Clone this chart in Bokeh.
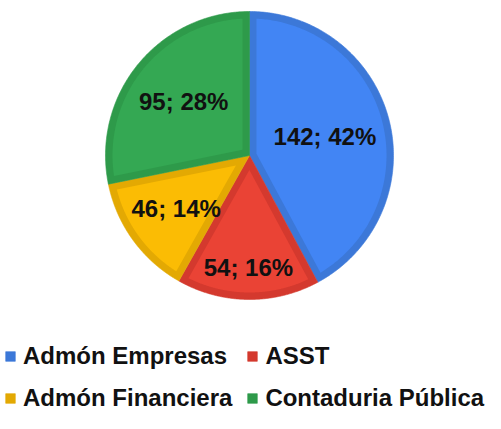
import numpy as np
from bokeh.plotting import figure
from bokeh.models import Range1d, Legend, LegendItem, ColumnDataSource
from bokeh.core.properties import value
from bokeh.embed import file_html
from bokeh.resources import INLINE

categories = ["Admón Empresas", "ASST", "Admón Financiera", "Contaduria Pública"]
counts = [142, 54, 46, 95]
fill_colors = ["#4285F4", "#EA4335", "#FBBC04", "#34A853"]
edge_colors = ["#3C78D8", "#D4392E", "#E3A903", "#2E9A4A"]
label_radius_frac = [0.54, 0.78, 0.63, 0.59]

W, H = 485, 413
p = figure(width=W, height=H, output_backend="svg", toolbar_location=None,
           x_range=Range1d(0, W), y_range=Range1d(0, H), min_border=0)
p.axis.visible = False
p.grid.visible = False
p.outline_line_color = None
p.background_fill_color = "white"

cx, cy, R, B = 249.0, 258.0, 144.0, 7.0
total = sum(counts)
fracs = np.array(counts) / total
ends = np.cumsum(fracs)
starts = ends - fracs

outer_renderers = []
for i, (s, e) in enumerate(zip(starts, ends)):
    # angles: start at top, clockwise
    a0 = np.pi / 2 - 2 * np.pi * s
    a1 = np.pi / 2 - 2 * np.pi * e
    t = np.linspace(a0, a1, 200)
    xs = np.concatenate([[cx], cx + R * np.cos(t)])
    ys = np.concatenate([[cy], cy + R * np.sin(t)])
    r = p.patch(xs, ys, fill_color=edge_colors[i], line_color=edge_colors[i], line_width=0.6)
    outer_renderers.append(r)
    theta = a0 - a1
    r_in = R - B
    d = np.arcsin(B / r_in)
    apex_d = B / np.sin(theta / 2)
    mid = (a0 + a1) / 2
    ti = np.linspace(a0 - d, a1 + d, 200)
    xi = np.concatenate([[cx + apex_d * np.cos(mid)], cx + r_in * np.cos(ti)])
    yi = np.concatenate([[cy + apex_d * np.sin(mid)], cy + r_in * np.sin(ti)])
    p.patch(xi, yi, fill_color=fill_colors[i], line_color=None)

# labels
mids = np.pi / 2 - 2 * np.pi * (starts + ends) / 2
lx = cx + np.array(label_radius_frac) * R * np.cos(mids)
ly = cy + np.array(label_radius_frac) * R * np.sin(mids)
labels = [f"{c}; {round(f * 100)}%" for c, f in zip(counts, fracs)]
src = ColumnDataSource(dict(x=lx, y=ly, t=labels))
p.text("x", "y", text="t", source=src, text_font=value("Liberation Sans"),
       text_font_style="bold", text_font_size="24px", text_align="center",
       text_baseline="middle", text_color="#111111")

legend = Legend(items=[LegendItem(label=c, renderers=[r]) for c, r in zip(categories, outer_renderers)],
                nrows=2, orientation="horizontal", location=(4, 1),
                label_text_font="Liberation Sans", label_text_font_style="bold",
                label_text_font_size="24px", label_text_color="#111111",
                glyph_width=12, glyph_height=12, label_standoff=7, spacing=14,
                label_height=22, padding=0, margin=0, border_line_color=None,
                background_fill_alpha=0)
p.add_layout(legend, "center")

open("out.html", "w").write(file_html(p, INLINE))
